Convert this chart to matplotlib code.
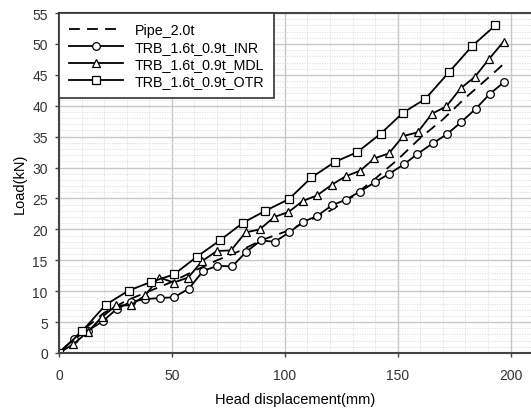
import numpy as np
import matplotlib
matplotlib.use("Agg")
import matplotlib.pyplot as plt
from matplotlib.ticker import MultipleLocator

# Data
pipe_x = [0, 10, 20, 30, 40, 50, 60, 70, 80, 90, 100, 110, 120, 130, 140, 150, 160, 170, 180, 190, 197]
pipe_y = [0, 3.5, 6.5, 8.5, 10.0, 11.5, 13.3, 15.0, 16.5, 18.3, 19.6, 21.3, 23.0, 25.3, 28.2, 31.3, 34.8, 37.8, 41.3, 44.5, 46.8]

inr_x = [0, 6.6, 12.7, 19.3, 25.5, 31.9, 38.3, 44.7, 50.9, 57.5, 63.9, 70.2, 76.7, 83.0, 89.4,
         95.6, 101.9, 108.1, 114.4, 120.9, 127.0, 133.2, 139.8, 146.2, 152.7, 158.7, 165.4,
         171.8, 178.2, 184.5, 190.7, 197.0]
inr_y = [0, 2.3, 3.6, 5.1, 7.1, 8.3, 8.7, 8.9, 9.0, 10.4, 13.3, 14.1, 14.0, 16.4, 18.2,
         18.0, 19.5, 21.2, 22.2, 23.9, 24.8, 26.1, 27.6, 29.0, 30.5, 32.2, 33.9,
         35.4, 37.4, 39.5, 41.9, 43.8]

mdl_x = [0, 6.35, 12.7, 19.0, 25.4, 31.8, 38.1, 44.5, 50.8, 57.2, 63.5, 69.9, 76.2, 82.6, 88.9,
         95.3, 101.6, 108.0, 114.3, 120.7, 127.0, 133.4, 139.7, 146.1, 152.4, 158.8, 165.1,
         171.5, 177.8, 184.2, 190.5, 196.9]
mdl_y = [0, 1.4, 3.4, 5.8, 7.7, 7.7, 9.3, 12.2, 11.4, 12.2, 14.9, 16.5, 16.6, 19.5, 20.0,
         22.0, 22.8, 24.6, 25.5, 27.2, 28.6, 29.5, 31.5, 32.3, 35.1, 35.7, 38.7,
         39.9, 42.8, 44.7, 47.6, 50.4]

otr_x = [0, 10.2, 20.7, 30.9, 40.8, 50.9, 61.2, 71.2, 81.6, 91.4, 101.8, 111.8, 122.1, 132.1,
         142.5, 152.4, 162.2, 172.6, 183.0, 193.2]
otr_y = [0, 3.5, 7.8, 10.1, 11.5, 12.7, 15.6, 18.2, 21.1, 23.0, 24.9, 28.4, 30.9, 32.5,
         35.5, 38.9, 41.1, 45.4, 49.7, 53.0]

labels = ["Pipe_2.0t", "TRB_1.6t_0.9t_INR", "TRB_1.6t_0.9t_MDL", "TRB_1.6t_0.9t_OTR"]

plt.rcParams['font.family'] = ['Arial', 'Liberation Sans', 'DejaVu Sans']

fig = plt.figure(figsize=(5.31, 4.14), dpi=100)
ax = fig.add_axes([0.111, 0.145, 0.889, 0.821])

lw = 1.3
mk = dict(ms=5.5, mfc='white', mec='black', mew=0.9)
ax.plot(pipe_x, pipe_y, color='black', lw=lw, linestyle=(0, (6, 4)), label=labels[0])
ax.plot(inr_x, inr_y, color='black', lw=lw, marker='o', label=labels[1], **mk)
ax.plot(mdl_x, mdl_y, color='black', lw=lw, marker='^', label=labels[2], **mk)
ax.plot(otr_x, otr_y, color='black', lw=lw, marker='s', label=labels[3], **mk)

ax.set_xlim(0, 209)
ax.set_ylim(0, 55)
ax.xaxis.set_major_locator(MultipleLocator(50))
ax.yaxis.set_major_locator(MultipleLocator(5))
ax.xaxis.set_minor_locator(MultipleLocator(10))
ax.yaxis.set_minor_locator(MultipleLocator(1))
ax.grid(which='major', color='#c8c8c8', lw=1.0)
ax.grid(which='minor', color='#dcdcdc', lw=0.6, linestyle=(0, (1.5, 1.5)))
ax.set_axisbelow(True)
ax.tick_params(which='minor', length=0)
ax.tick_params(which='major', direction='out', length=3, width=1, pad=5, labelsize=10,
               colors='#444444', labelcolor='#333333')
ax.tick_params(axis='x', pad=8)

for s in ['left', 'bottom', 'top']:
    ax.spines[s].set_linewidth(1.5)
    ax.spines[s].set_color('#444444')
ax.spines['right'].set_visible(False)

ax.set_xlabel("Head displacement(mm)", fontsize=10.5, labelpad=7)
ax.set_ylabel("Load(kN)", fontsize=10.5, labelpad=4)

leg = ax.legend(loc='upper left', fontsize=10.3, frameon=True, fancybox=False,
                edgecolor='#333333', handlelength=3.8, borderpad=0.7, labelspacing=0.2,
                borderaxespad=0.0, bbox_to_anchor=(0.0, 1.0))
leg.get_frame().set_linewidth(1.2)
leg.get_frame().set_alpha(1)

fig.savefig("out.png", dpi=100)
